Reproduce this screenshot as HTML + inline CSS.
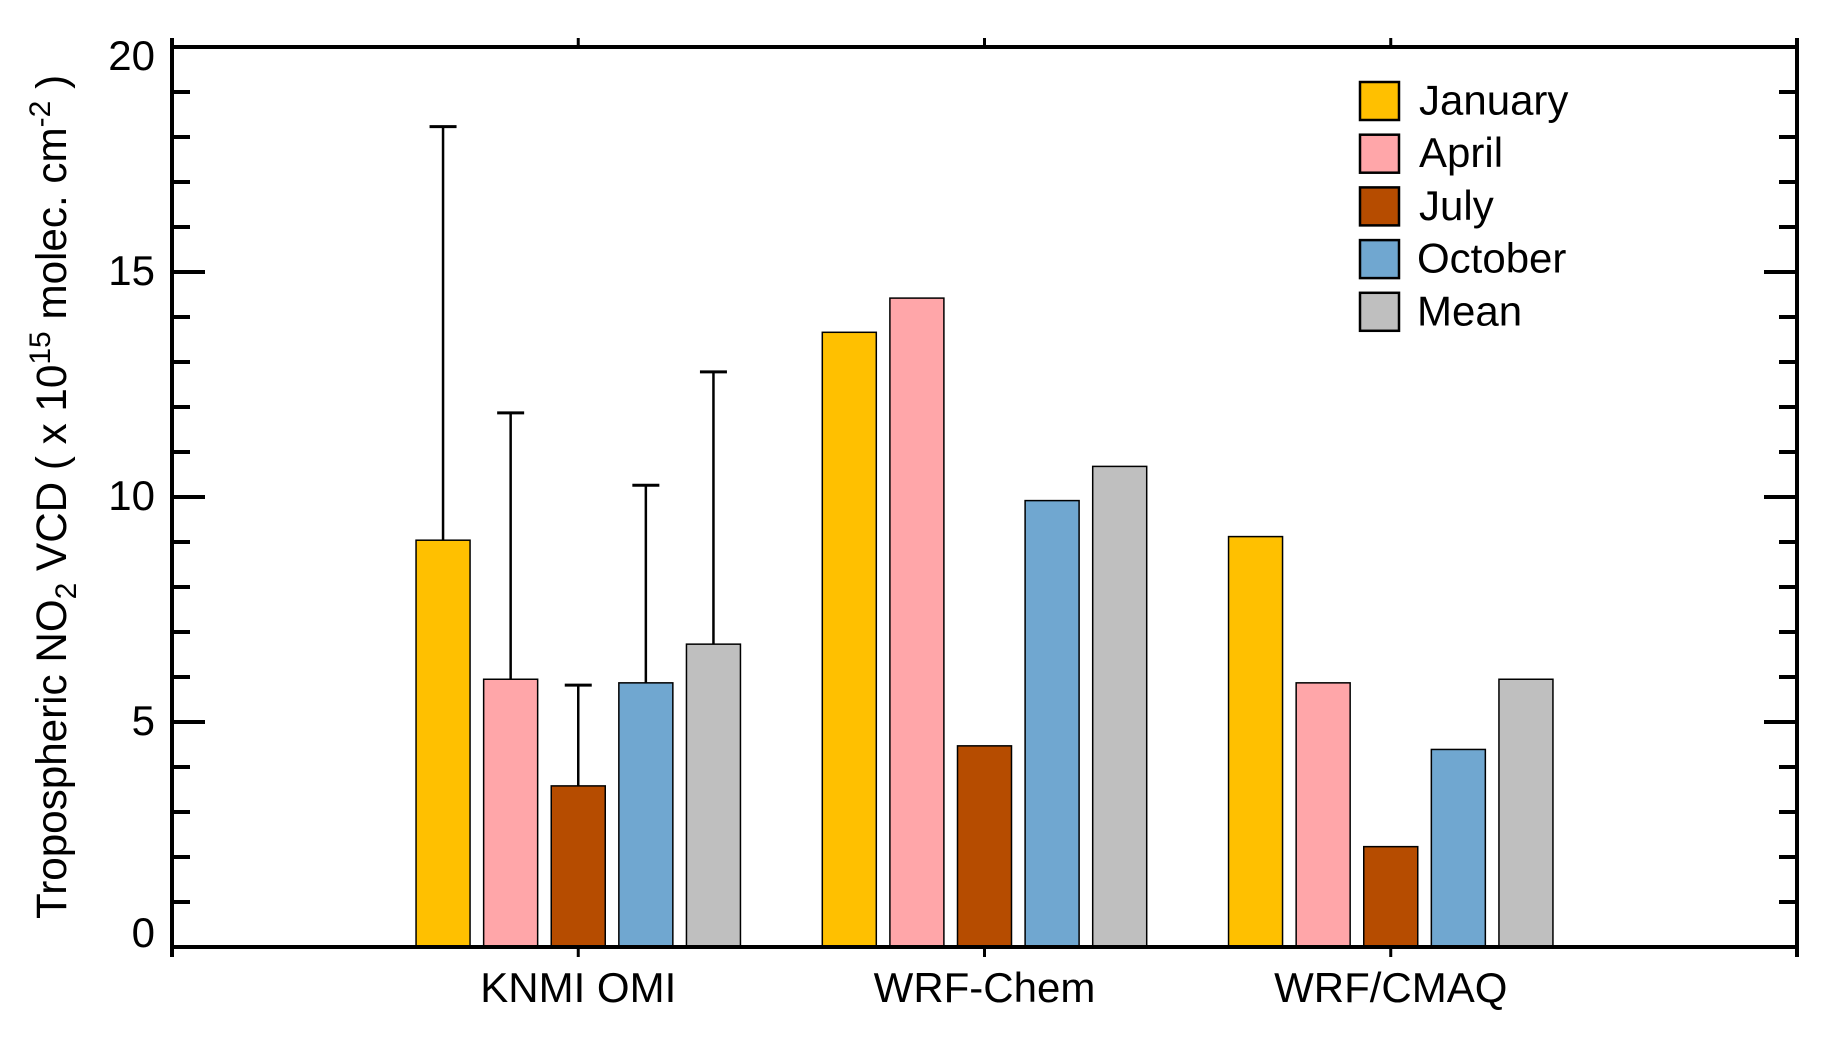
<!DOCTYPE html>
<html lang="en">
<head>
<meta charset="utf-8">
<title>Tropospheric NO2 VCD</title>
<style>
  html, body { margin: 0; padding: 0; background: #fff; }
  svg { display: block; font-family: "Liberation Sans", sans-serif; fill: #000; }
</style>
</head>
<body>
<svg id="chart" xmlns="http://www.w3.org/2000/svg" width="1833" height="1040" viewBox="0 0 1833 1040">
  <text transform="translate(66,919) rotate(-90)" font-size="42.2">Tropospheric NO<tspan font-size="30" dy="10">2</tspan><tspan dy="-10"> VCD ( x 10</tspan><tspan font-size="30" dy="-16">15</tspan><tspan dy="16"> molec. cm</tspan><tspan font-size="30" dy="-16">-2</tspan><tspan dy="16"> )</tspan></text>
  <g id="bars"></g>
  <g id="axes"></g>
  <g id="legend"></g>
</svg>
<script>
const categories = ['KNMI OMI', 'WRF-Chem', 'WRF/CMAQ'];
const seriesNames = ['January', 'April', 'July', 'October', 'Mean'];
const seriesColors = ['#ffc000', '#ffa6a9', '#b64c00', '#70a7d0', '#bfbfbf'];
const januaryValues = [9.04, 13.66, 9.12];
const aprilValues = [5.95, 14.42, 5.87];
const julyValues = [3.58, 4.47, 2.23];
const octoberValues = [5.87, 9.92, 4.39];
const meanValues = [6.73, 10.68, 5.95];
const knmiErrorTops = [18.23, 11.87, 5.82, 10.26, 12.78];
const yTickLabels = ['0', '5', '10', '15', '20'];

const seriesValues = [januaryValues, aprilValues, julyValues, octoberValues, meanValues];
const NS = 'http://www.w3.org/2000/svg';
const plot = { left: 172, right: 1797, top: 47, bottom: 947 };
const yMax = 20;
const xSlots = categories.length + 1;

function yScale(v) { return plot.bottom - (v / yMax) * (plot.bottom - plot.top); }
function xScale(slot) { return plot.left + (slot / xSlots) * (plot.right - plot.left); }
function make(tag, attrs, parent) {
  const el = document.createElementNS(NS, tag);
  for (const k in attrs) el.setAttribute(k, attrs[k]);
  parent.appendChild(el);
  return el;
}

const barsG = document.getElementById('bars');
const axesG = document.getElementById('axes');
const legendG = document.getElementById('legend');
const barW = 54;
const barStep = 67.6;

categories.forEach(function (cat, c) {
  const cx = xScale(c + 1);
  seriesNames.forEach(function (name, s) {
    const bx = cx + (s - 2) * barStep;
    const v = seriesValues[s][c];
    const r = make('rect', { x: bx - barW / 2, y: yScale(v), width: barW, height: yScale(0) - yScale(v), fill: seriesColors[s], stroke: '#000', 'stroke-width': 1.5 }, barsG);
    
    
  });
});

knmiErrorTops.forEach(function (top, s) {
  const bx = xScale(1) + (s - 2) * barStep;
  const g = make('g', {}, barsG);
  
  
  make('line', { x1: bx, x2: bx, y1: yScale(top), y2: yScale(seriesValues[s][0]), stroke: '#000', 'stroke-width': 2.5 }, g);
  make('line', { x1: bx - 13.5, x2: bx + 13.5, y1: yScale(top), y2: yScale(top), stroke: '#000', 'stroke-width': 3 }, g);
});

function axisLine(x1, y1, x2, y2, w, name) {
  const l = make('line', { x1: x1, y1: y1, x2: x2, y2: y2, stroke: '#000', 'stroke-width': w }, axesG);
  
  
}
axisLine(plot.left, plot.top - 9, plot.left, plot.bottom + 10, 4, 'y-axis-left');
axisLine(plot.right, plot.top - 9, plot.right, plot.bottom + 10, 4, 'y-axis-right');
axisLine(plot.left, plot.top, plot.right, plot.top, 4, 'x-axis-top');
axisLine(plot.left, plot.bottom, plot.right, plot.bottom, 4, 'x-axis-bottom');

for (let v = 1; v < yMax; v++) {
  const len = v % 5 === 0 ? 33 : 18;
  axisLine(plot.left, yScale(v), plot.left + len, yScale(v), 4, 'y-tick-left-' + v);
  axisLine(plot.right, yScale(v), plot.right - len, yScale(v), 4, 'y-tick-right-' + v);
}
categories.forEach(function (cat, c) {
  const x = xScale(c + 1);
  axisLine(x, plot.top - 9, x, plot.top, 3, 'x-tick-top-' + c);
  axisLine(x, plot.bottom, x, plot.bottom + 10, 3, 'x-tick-bottom-' + c);
  const t = make('text', { x: x, y: 1002, 'text-anchor': 'middle', 'font-size': 42 }, axesG);
  
  
  t.textContent = cat;
});

function labelNudge(v) { return v === 0 ? 0 : v === yMax ? 23 : 13; }
yTickLabels.forEach(function (label) {
  const v = Number(label);
  const t = make('text', { x: 155, y: yScale(v) + labelNudge(v), 'text-anchor': 'end', 'font-size': 42 }, axesG);
  
  
  t.textContent = label;
});

seriesNames.forEach(function (name, s) {
  const g = make('g', {}, legendG);
  
  
  const rowY = 82 + s * 52.7;
  make('rect', { x: 1360, y: rowY, width: 39, height: 38, fill: seriesColors[s], stroke: '#000', 'stroke-width': 2.5 }, g);
  const t = make('text', { x: s < 3 ? 1419 : 1417, y: 114.5 + s * 52.7, 'font-size': 42 }, g);
  t.textContent = name;
});
</script>
</body>
</html>
